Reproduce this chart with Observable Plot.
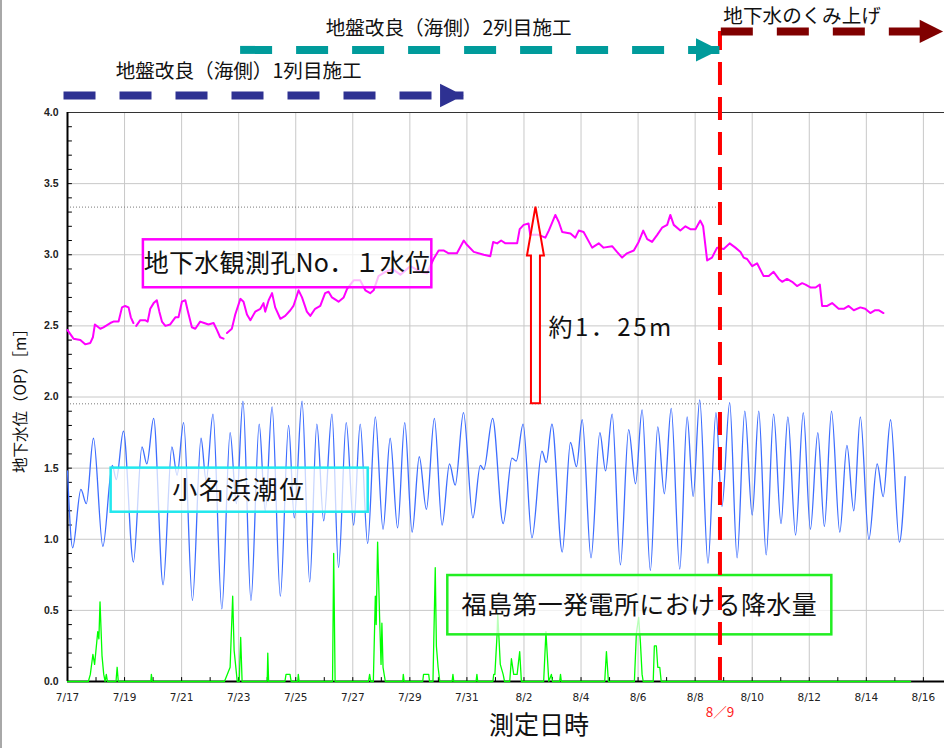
<!DOCTYPE html>
<html><head><meta charset="utf-8">
<script src="https://cdn.jsdelivr.net/npm/d3@7"></script>
<script src="https://cdn.jsdelivr.net/npm/@observablehq/plot@0.6"></script>
<style>
body{margin:0;background:#fff;}
#wrap{position:relative;width:944px;height:748px;overflow:hidden;background:#fff;}
#edge{position:absolute;left:0;top:0;width:2px;height:748px;background:#a8a8a8;}
#wrap svg{position:absolute;left:0;top:0;}
</style></head><body><div id="wrap"><div id="edge"></div></div>
<script>
// ---------- data (day offsets from 2013-07-17 00:00) ----------
const xTickLabels = ["7/17","7/19","7/21","7/23","7/25","7/27","7/29","7/31","8/2","8/4","8/6","8/8","8/10","8/12","8/14","8/16"];
const yTickValues = [0, 0.5, 1.0, 1.5, 2.0, 2.5, 3.0, 3.5, 4.0];

// 地下水観測孔No.1水位 [day, m]  (null = gap)
const gwSeries = [[0.00,2.47],[0.21,2.41],[0.45,2.40],[0.62,2.37],[0.80,2.38],[0.89,2.42],[0.96,2.51],[1.15,2.48],[1.26,2.49],[1.50,2.52],[1.61,2.53],[1.79,2.53],[1.91,2.63],[2.02,2.64],[2.14,2.63],[2.22,2.56],[2.31,2.52],[2.36,null],
[2.41,2.50],[2.55,2.54],[2.72,2.54],[2.81,2.53],[2.90,2.62],[3.02,2.66],[3.13,2.68],[3.22,2.60],[3.31,2.53],[3.43,2.50],[3.60,2.51],[3.78,2.56],[3.89,2.56],[4.01,2.67],[4.13,2.68],[4.21,2.61],[4.36,2.49],[4.48,2.48],[4.65,2.53],[4.79,2.52],[4.94,2.51],[5.12,2.52],[5.24,2.47],[5.35,2.42],[5.47,2.41],[5.53,null],
[5.59,2.45],[5.76,2.48],[5.88,2.58],[6.06,2.69],[6.17,2.67],[6.29,2.58],[6.41,2.54],[6.58,2.60],[6.76,2.62],[6.87,2.66],[6.93,2.60],[7.05,2.68],[7.17,2.73],[7.28,2.63],[7.46,2.55],[7.63,2.57],[7.81,2.61],[7.92,2.64],[8.10,2.75],[8.22,2.70],[8.39,2.60],[8.51,2.57],[8.68,2.62],[8.86,2.64],[9.03,2.73],[9.15,2.74],[9.27,2.70],[9.50,2.67],[9.68,2.70],[9.80,2.76],[10.03,2.82],[10.26,2.82],[10.44,2.75],[10.61,2.73],[10.73,2.75],[10.90,2.85],[11.14,2.88],[11.39,2.90],[11.67,2.86],[12.02,2.92],[12.37,2.88],[12.60,2.87],[12.83,2.97],[13.01,3.03],[13.18,3.03],[13.36,3.01],[13.65,3.01],[13.89,3.10],[14.00,3.07],[14.24,3.02],[14.59,3.00],[14.82,2.99],[14.92,3.09],[15.06,3.08],[15.20,3.10],[15.35,3.08],[15.76,3.08],[15.85,3.18],[15.99,3.21],[16.16,3.22],[16.22,3.14],[16.51,3.14],[16.75,3.12],[16.87,3.17],[17.10,3.28],[17.22,3.23],[17.34,3.16],[17.63,3.15],[17.80,3.12],[17.92,3.17],[18.09,3.16],[18.39,3.05],[18.62,3.08],[18.79,3.05],[19.09,3.06],[19.26,3.02],[19.44,2.98],[19.61,3.01],[19.85,3.03],[20.02,3.09],[20.18,3.17],[20.32,3.11],[20.49,3.09],[20.67,3.14],[20.84,3.19],[21.02,3.21],[21.13,3.28],[21.25,3.21],[21.48,3.17],[21.66,3.20],[21.83,3.18],[22.01,3.18],[22.18,3.24],[22.28,3.20],[22.42,2.96],[22.59,2.98],[22.77,3.05],[23.00,3.04],[23.21,3.08],[23.41,3.05],[23.59,3.02],[23.70,2.98],[23.82,2.97],[24.00,2.92],[24.17,2.94],[24.40,2.85],[24.58,2.85],[24.75,2.88],[24.93,2.83],[25.05,2.81],[25.22,2.83],[25.40,2.81],[25.57,2.78],[25.75,2.80],[25.87,2.79],[26.04,2.77],[26.22,2.77],[26.37,2.79],[26.45,2.64],[26.63,2.64],[26.80,2.66],[27.03,2.62],[27.21,2.62],[27.38,2.64],[27.56,2.61],[27.79,2.63],[27.96,2.62],[28.14,2.59],[28.31,2.61],[28.43,2.61],[28.60,2.59]];

// 小名浜潮位 [day, m] (high / low waters)
const tideSeries = [[0.00,1.48],[0.18,0.94],[0.47,1.35],[0.66,1.25],[0.91,1.71],[1.24,0.95],[1.57,1.52],[1.71,1.42],[1.96,1.76],[2.31,0.84],[2.61,1.65],[2.78,1.53],[3.02,1.85],[3.35,0.68],[3.66,1.65],[3.84,1.45],[4.07,1.82],[4.38,0.57],[4.68,1.71],[4.86,1.41],[5.10,1.88],[5.41,0.51],[5.70,1.75],[5.92,1.25],[6.15,1.97],[6.43,0.57],[6.72,1.81],[6.93,1.20],[7.17,1.93],[7.46,0.60],[7.75,1.80],[7.95,1.15],[8.22,1.97],[8.49,0.70],[8.74,1.81],[8.98,1.13],[9.27,1.88],[9.50,0.80],[9.77,1.82],[10.03,1.10],[10.26,1.81],[10.52,0.97],[10.79,1.86],[11.06,1.07],[11.31,1.71],[11.57,1.08],[11.82,1.82],[12.08,1.05],[12.33,1.58],[12.58,1.21],[12.86,1.85],[13.13,1.10],[13.39,1.53],[13.59,1.38],[13.88,1.89],[14.21,1.15],[14.47,1.52],[14.59,1.49],[14.90,1.85],[15.27,1.11],[15.58,1.57],[15.73,1.55],[15.97,1.81],[16.28,1.01],[16.63,1.62],[16.78,1.54],[16.98,1.81],[17.34,0.91],[17.63,1.68],[17.84,1.51],[18.04,1.84],[18.35,0.87],[18.66,1.75],[18.86,1.48],[19.09,1.88],[19.38,0.82],[19.67,1.77],[19.91,1.39],[20.14,1.91],[20.43,0.78],[20.69,1.79],[20.92,1.32],[21.16,1.92],[21.46,0.79],[21.72,1.86],[21.93,1.30],[22.16,1.98],[22.45,0.83],[22.73,1.89],[22.94,1.23],[23.21,1.96],[23.47,0.87],[23.74,1.90],[24.00,1.17],[24.23,1.90],[24.49,0.89],[24.75,1.88],[25.01,1.11],[25.25,1.86],[25.52,1.03],[25.79,1.89],[26.04,1.07],[26.30,1.75],[26.53,1.09],[26.78,1.90],[27.07,1.05],[27.32,1.66],[27.56,1.20],[27.79,1.86],[28.09,1.00],[28.38,1.53],[28.59,1.30],[28.85,1.84],[29.16,0.98],[29.36,1.44]];

// 福島第一発電所における降水量 [day, value on the m axis]
const rainSeries = [[0,0],[0.73,0],[0.80,0.05],[0.89,0.19],[0.95,0.12],[1.06,0.35],[1.10,0.30],[1.14,0.56],[1.21,0.18],[1.27,0.05],[1.32,0],[1.36,0.05],[1.40,0],[1.70,0],[1.74,0.10],[1.78,0],[2.92,0],[2.94,0.05],[2.97,0],[5.50,0],[5.60,0.05],[5.70,0.10],[5.79,0.60],[5.84,0.22],[5.90,0.10],[5.95,0],[6.02,0],[6.07,0.31],[6.12,0],[7.00,0],[7.02,0.20],[7.05,0],[7.62,0],[7.66,0.05],[7.80,0.05],[7.84,0],[8.07,0],[8.09,0.05],[8.12,0],[9.29,0],[9.33,0.90],[9.38,0],[10.55,0],[10.59,0.05],[10.63,0],[10.72,0],[10.79,0.60],[10.82,0.40],[10.87,0.98],[10.94,0.45],[10.99,0.12],[11.02,0.41],[11.06,0.10],[11.14,0],[11.75,0],[11.77,0.05],[11.80,0],[12.45,0],[12.48,0.05],[12.66,0.05],[12.69,0],[12.81,0],[12.89,0.80],[12.93,0.25],[12.99,0.10],[13.05,0],[13.48,0],[13.51,0.05],[13.54,0],[14.32,0],[14.35,0.05],[14.38,0],[14.91,0],[14.94,0.05],[14.98,0.05],[15.06,0.34],[15.08,0.48],[15.17,0.12],[15.27,0.05],[15.32,0],[15.50,0],[15.56,0.16],[15.64,0.05],[15.76,0.05],[15.85,0.21],[15.91,0],[16.69,0],[16.77,0.35],[16.87,0],[16.96,0.05],[17.00,0],[17.25,0],[17.28,0.05],[17.31,0],[18.83,0],[18.89,0.21],[18.96,0],[19.87,0],[19.94,0.34],[20.02,0.45],[20.08,0.28],[20.14,0.05],[20.18,0],[20.53,0],[20.57,0.25],[20.64,0.25],[20.69,0.10],[20.76,0.10],[20.81,0],[29.55,0]];

const seriesLabels = ["地下水観測孔No．１水位", "小名浜潮位", "福島第一発電所における降水量"];
const phaseLabels = ["地盤改良（海側）1列目施工", "地盤改良（海側）2列目施工", "地下水のくみ上げ"];
const phaseStartDay = [-0.14, 6.05, 22.90];
const phaseEndDay = [13.88, 22.85, 30.69];
const refLevels = [3.335, 1.952];          // 点線（上昇前後の水位）
const riseLabel = "約1．25m";
const pumpStartDay = 22.87;                // 8/9 くみ上げ開始
const pumpLabel = "8／9";
const xTitle = "測定日時";
const yTitle = "地下水位（OP）［m］";

// ---------- layout / style (annotation placement in data units) ----------
const JP = "'Noto Sans CJK JP', 'Noto Sans', sans-serif";
const base = new Date(2013, 6, 17);
const toDate = d => new Date(+base + d * 864e5);
const parseTick = s => { const [m, d] = s.split("/").map(Number); return new Date(2013, m - 1, d); };
const xTickDates = xTickLabels.map(parseTick);

const phaseColors = ["#2e3192", "#009b9b", "#800000"];
const phaseLevel = [4.12, 4.44, 4.57];
const phaseLabelDay = [6.0, 13.36, 25.75];
const phaseLabelLevel = [4.285, 4.59, 4.675];

const boxes = [
  {d1: 2.66, d2: 12.77, v1: 3.105, v2: 2.768, color: "#ff00ff", size: 25, ls: 0.3},
  {d1: 1.53, d2: 10.54, v1: 1.50, v2: 1.19, color: "#22e8ee", size: 25, ls: 1.8},
  {d1: 13.33, d2: 26.79, v1: 0.745, v2: 0.328, color: "#22ee22", size: 25, ls: 0.4}
];
const riseArrowDay = 16.42;

const gw = gwSeries.map(([d, v]) => ({t: toDate(d), v: v == null ? NaN : v}));
const tide = tideSeries.map(([d, v]) => ({t: toDate(d), v}));
const rain = rainSeries.map(([d, v]) => ({t: toDate(d), v}));

const tickShape = {draw(ctx, l) { ctx.moveTo(0, 0); ctx.lineTo(0, -l); }};
const headSymbol = {draw(ctx, size) { const r = Math.sqrt(size / Math.PI); ctx.moveTo(0, 0); ctx.lineTo(-2 * r, -r); ctx.lineTo(-2 * r, r); ctx.closePath(); }};

const phaseMarks = phaseLabels.flatMap((label, i) => [
  Plot.line([phaseStartDay[i], phaseEndDay[i]], {x: d => toDate(d), y: () => phaseLevel[i], stroke: phaseColors[i], strokeWidth: 8, strokeDasharray: "32,24", strokeLinecap: "butt"}),
  Plot.dot([phaseEndDay[i]], {x: d => toDate(d), y: () => phaseLevel[i], symbol: headSymbol, r: 11.7, fill: phaseColors[i], stroke: "none"}),
  Plot.text([label], {x: () => toDate(phaseLabelDay[i]), y: () => phaseLabelLevel[i], text: d => d, fontSize: 19.6, fontFamily: JP, fill: "#111"})
]);

const boxMark = (index, {x, y}) => {
  const g = d3.create("svg:g");
  boxes.forEach((b, i) => {
    const X1 = x(toDate(b.d1)), X2 = x(toDate(b.d2)), Y1 = y(b.v1), Y2 = y(b.v2);
    g.append("rect").attr("x", X1).attr("y", Y1).attr("width", X2 - X1).attr("height", Y2 - Y1)
      .attr("fill", "white").attr("fill-opacity", 0.72).attr("stroke", b.color).attr("stroke-width", 2.5);
    g.append("text").attr("x", (X1 + X2) / 2).attr("y", (Y1 + Y2) / 2).attr("dy", "0.36em")
      .attr("text-anchor", "middle").attr("font-size", b.size).attr("font-family", JP)
      .attr("letter-spacing", b.ls).attr("fill", "#111").text(seriesLabels[i]);
  });
  return g.node();
};

const riseArrowMark = (index, {x, y}) => {
  const cx = x(toDate(riseArrowDay)), yT = y(refLevels[0]), yB = y(refLevels[1]);
  const hw = 4.5, hh = 8.5, hl = 49;
  const pts = [[cx, yT], [cx + hh, yT + hl], [cx + hw, yT + hl], [cx + hw, yB], [cx - hw, yB], [cx - hw, yT + hl], [cx - hh, yT + hl]];
  const g = d3.create("svg:g");
  g.append("polygon").attr("points", pts.map(p => p.join(",")).join(" "))
    .attr("fill", "white").attr("fill-opacity", 0.7).attr("stroke", "#ff0000").attr("stroke-width", 2);
  return g.node();
};

const yMinor = d3.range(1, 40).map(i => i / 10);
const xMinor = d3.range(1, 31);

const chart = Plot.plot({
  width: 944, height: 748,
  marginLeft: 67, marginRight: 0, marginTop: 112, marginBottom: 67,
  x: {type: "time", domain: [toDate(0), toDate(30.74)]},
  y: {domain: [0, 4]},
  style: {background: "transparent", overflow: "visible"},
  marks: [
    Plot.ruleY(yTickValues.filter(v => v > 0 && v < 4), {stroke: "#c8c8c8", strokeWidth: 1}),
    Plot.ruleX(xTickDates.slice(1), {stroke: "#c8c8c8", strokeWidth: 1}),
    Plot.ruleY(refLevels, {x1: () => toDate(0), x2: () => toDate(pumpStartDay), stroke: "#7a7a7a", strokeDasharray: "1,2"}),
    Plot.ruleY([4], {stroke: "#333", strokeWidth: 1}),
    Plot.ruleX([toDate(0)], {stroke: "#000", strokeWidth: 2}),
    Plot.ruleY([0], {stroke: "#000", strokeWidth: 2}),
    Plot.vector(yMinor, {x: () => toDate(0), y: d => d, length: 4, rotate: 90, anchor: "start", shape: tickShape, stroke: "#000", strokeWidth: 1}),
    Plot.vector(xMinor, {x: d => toDate(d), y: () => 0, length: 4, rotate: 0, anchor: "start", shape: tickShape, stroke: "#000", strokeWidth: 1}),
    Plot.axisY({ticks: yTickValues, tickFormat: d3.format(".1f"), tickSize: 0, tickPadding: 9, fontSize: 10.5, fontWeight: "bold", fontFamily: "'Liberation Sans', Arial, sans-serif", fill: "#222", label: null}),
    Plot.axisX({ticks: xTickDates, tickFormat: (d, i) => xTickLabels[i], tickSize: 0, tickPadding: 12, fontSize: 10.5, fontFamily: "'DejaVu Sans', sans-serif", fill: "#222", label: null}),
    Plot.line(rain, {x: "t", y: "v", stroke: "#00ff00", strokeWidth: 1.3}),
    Plot.line(tide, {x: "t", y: "v", curve: "monotone-x", stroke: "#3d6dff", strokeWidth: 1.3}),
    Plot.line(gw, {x: "t", y: "v", stroke: "#ff00ff", strokeWidth: 2}),
    boxMark,
    riseArrowMark,
    Plot.text([riseLabel], {x: () => toDate(16.86), y: () => 2.485, text: d => d, textAnchor: "start", fontSize: 24, fontFamily: JP, fill: "#111"}),
    Plot.ruleX([toDate(pumpStartDay)], {y1: () => 4.57, y2: () => -0.042, stroke: "#ff0000", strokeWidth: 4, strokeDasharray: "23,12", strokeDashoffset: 4}),
    Plot.text([pumpLabel], {x: () => toDate(pumpStartDay), y: () => -0.218, text: d => d, fontSize: 13.5, fill: "#ff2020", fontFamily: JP}),
    ...phaseMarks,
    Plot.text([yTitle], {frameAnchor: "left", textAnchor: "middle", rotate: -90, dx: -46, text: d => d, fontSize: 15.5, fontFamily: JP, fill: "#111"}),
    Plot.text([xTitle], {frameAnchor: "bottom", dx: 33, dy: 52, text: d => d, fontSize: 25, fontFamily: JP, fill: "#111"})
  ]
});
d3.select(chart).selectAll("text").filter(function() { return this.textContent === riseLabel; }).attr("letter-spacing", 2.5);
document.getElementById("wrap").appendChild(chart);
</script>
</body></html>
